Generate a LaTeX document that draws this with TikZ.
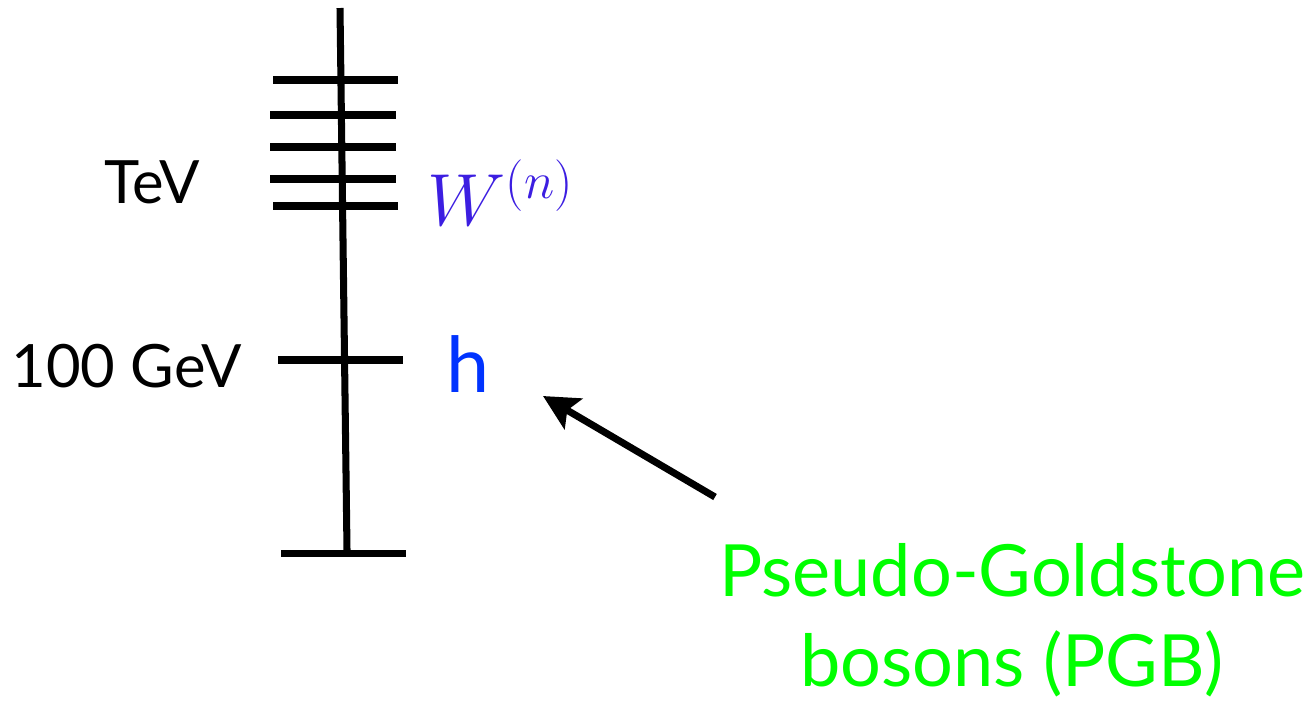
\documentclass[tikz,border=0pt]{standalone}
\usepackage{fix-cm}
\usepackage{fontspec}
\setmainfont{Lato}
\usetikzlibrary{arrows.meta}
\definecolor{hblue}{RGB}{0,51,255}
\definecolor{wblue}{RGB}{60,30,225}
\definecolor{pgbgreen}{RGB}{0,255,0}
\begin{document}
\begin{tikzpicture}[x=0.02cm, y=-0.02cm, line width=4pt]

        \useasboundingbox (0,0) rectangle (1310,701);

            % Mass axis
            \draw (340,8) -- (347,550);

            % KK tower of W levels
            \foreach \ypos/\xl/\xr in {80/273/398, 115/270/396, 147/270/396, 179/270/396, 206/273/398}
                \draw (\xl,\ypos) -- (\xr,\ypos);

            % Higgs level and bottom
            \draw (278,360) -- (403,360);
            \draw (281,553) -- (406,553);

            % Scale labels
            \node[anchor=base east, inner sep=0pt, font=\fontsize{34}{40}\selectfont] (tev) at (203,203) {TeV};
            \node[anchor=base east, inner sep=0pt, font=\fontsize{34}{40}\selectfont] (gev) at (245,387) {100 GeV};

            % Particle labels
            \node[anchor=base west, inner sep=0pt, text=wblue, font=\fontsize{42}{46}\selectfont] (wn) at (424,225) {$W^{(n)}$};
            \node[anchor=base west, inner sep=0pt, text=hblue, font=\fontsize{44}{48}\selectfont] (h) at (443,392) {h};

            % PGB label and arrow
            \node[anchor=base, inner sep=0pt, text=pgbgreen, align=center, font=\fontsize{41}{51}\selectfont] (pgb) at (1012,686) {Pseudo-Goldstone\\bosons (PGB)};
            \coordinate (pgbtail) at (715,497);
            \coordinate (pgbtip) at (543,396);
            \draw[-{Stealth[length=20pt, width=20pt, inset=4pt]}] (pgbtail) -- (pgbtip);

        \end{tikzpicture}
\end{document}
